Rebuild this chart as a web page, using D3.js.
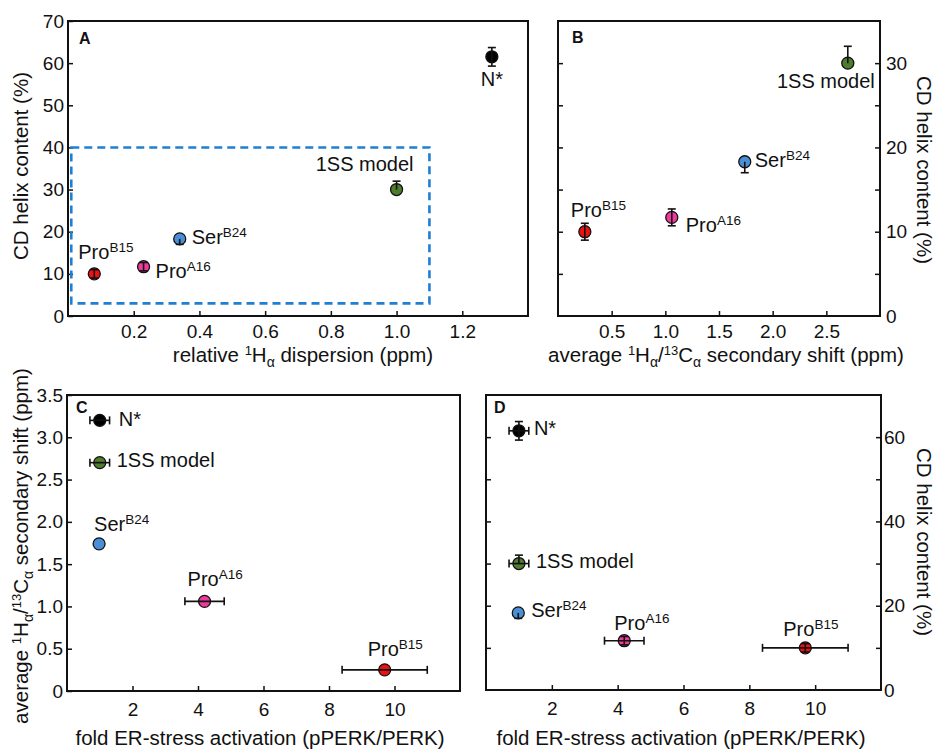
<!DOCTYPE html>
<html>
<head>
<meta charset="utf-8">
<script src="https://d3js.org/d3.v7.min.js"></script>
<style>
body { margin: 0; background: #fff; }
svg { display: block; }
svg text { font-family: 'Liberation Sans', Arial, sans-serif; fill: #111; }
.tick text { font-size: 19px; }
.tick line { stroke: #111; stroke-width: 1.5px; }
.box { fill: none; stroke: #111; stroke-width: 2px; }
.title { font-size: 20.5px; }
.plabel { font-size: 20px; }
.letter { font-size: 16px; font-weight: bold; }
.err { stroke: #111; stroke-width: 1.6px; }
</style>
</head>
<body>
<svg width="938" height="752"></svg>
<script>
// points: N*, 1SS model, SerB24, ProA16, ProB15
const names = ["N*", "1SS model", "Ser", "Pro", "Pro"];
const supers = ["", "", "B24", "A16", "B15"];
const colors = ["#000000", "#4e7d2e", "#4a8fd6", "#ee3a9c", "#ee1111"];
const helix = [61.5, 30.0, 18.3, 11.7, 10.0];
const helixErrLo = [2.2, 0, 1.3, 1.0, 1.0];
const helixErrHi = [2.2, 2.0, 0, 1.0, 1.0];
const dispersion = [1.29, 1.0, 0.34, 0.23, 0.08];
const shift = [3.2, 2.7, 1.74, 1.06, 0.25];
const perk = [1.0, 1.0, 0.98, 4.2, 9.7];
const perkErr = [0.3, 0.3, 0, 0.6, 1.3];

const dispTicks = [0.2, 0.4, 0.6, 0.8, 1.0, 1.2];
const shiftTicksB = [0.5, 1.0, 1.5, 2.0, 2.5];
const shiftTicksC = [0, 0.5, 1.0, 1.5, 2.0, 2.5, 3.0, 3.5];
const perkTicks = [2, 4, 6, 8, 10];
const helixTicksA = [0, 10, 20, 30, 40, 50, 60, 70];
const helixTicksB = [5, 10, 15, 20, 25, 30];
const helixLabelsB = [0, 10, 20, 30];
const helixTicksD = [10, 20, 30, 40, 50, 60];
const helixLabelsD = [0, 20, 40, 60];
// dashed region in panel A (data units)
const regionX = [0.01, 1.1];
const regionY = [3, 40];

const svg = d3.select("svg");
const f1 = d => d === 0 ? "0" : d.toFixed(1);

function richText(sel, parts) {
  let shiftY = 0;
  parts.forEach(p => {
    const t = sel.append("tspan").text(p[0]);
    let target = 0;
    if (p[1] === "sup") { t.style("font-size", "13px"); target = -7; }
    if (p[1] === "sub") { t.style("font-size", "14px"); target = 5; }
    t.attr("dy", target - shiftY);
    shiftY = target;
  });
}

const titleShift = [["average "], ["1", "sup"], ["H"], ["\u03b1", "sub"], ["/"], ["13", "sup"], ["C"], ["\u03b1", "sub"], [" secondary shift (ppm)"]];
const titleDisp = [["relative "], ["1", "sup"], ["H"], ["\u03b1", "sub"], [" dispersion (ppm)"]];
const titleHelix = [["CD helix content (%)"]];
const titlePerk = [["fold ER-stress activation (pPERK/PERK)"]];

function panel(o) {
  const g = svg.append("g");
  const x = d3.scaleLinear().domain(o.xDomain).range([o.left, o.right]);
  const y = d3.scaleLinear().domain(o.yDomain).range([o.bottom, o.top]);
  const noDomain = s => s.select(".domain").remove();

  g.append("g").attr("transform", `translate(0,${o.bottom})`)
    .call(d3.axisBottom(x).tickValues(o.xTicks).tickSize(-5).tickPadding(o.xPad).tickFormat(o.xFmt))
    .call(noDomain);

  if (o.ySide === "left") {
    g.append("g").attr("transform", `translate(${o.left},0)`)
      .call(d3.axisLeft(y).tickValues(o.yTicks).tickSize(-5).tickPadding(4).tickFormat(o.yFmt))
      .call(noDomain);
  } else {
    g.append("g").attr("transform", `translate(${o.right},0)`)
      .call(d3.axisRight(y).tickValues(o.yTicks).tickSize(-5).tickFormat(""))
      .call(noDomain);
    g.append("g").attr("transform", `translate(${o.right},0)`)
      .call(d3.axisRight(y).tickValues(o.yLabels).tickSize(0).tickPadding(o.yPad).tickFormat(o.yFmt))
      .call(noDomain);
    g.append("g").attr("transform", `translate(${o.left},0)`)
      .call(d3.axisLeft(y).tickValues(o.yTicks).tickSize(-5).tickFormat(""))
      .call(noDomain);
  }

  g.append("rect").attr("class", "box")
    .attr("x", o.left).attr("y", o.top)
    .attr("width", o.right - o.left).attr("height", o.bottom - o.top);

  if (o.region) {
    g.append("rect")
      .attr("x", x(o.region[0][0])).attr("y", y(o.region[1][1]))
      .attr("width", x(o.region[0][1]) - x(o.region[0][0]))
      .attr("height", y(o.region[1][0]) - y(o.region[1][1]))
      .attr("fill", "none").attr("stroke", "#1f7fd4")
      .attr("stroke-width", 2.6).attr("stroke-dasharray", "8,5");
  }

  const idx = d3.range(names.length).filter(i =>
    o.xs[i] >= o.xDomain[0] && o.xs[i] <= o.xDomain[1] &&
    o.ys[i] >= o.yDomain[0] && o.ys[i] <= o.yDomain[1]);

  g.selectAll("circle.pt").data(idx).join("circle")
    .attr("class", "pt")
    .attr("cx", i => x(o.xs[i])).attr("cy", i => y(o.ys[i]))
    .attr("r", 6).attr("fill", i => colors[i])
    .attr("stroke", "#111").attr("stroke-width", 1.3);

  const cap = 4;
  idx.forEach(i => {
    const cx = x(o.xs[i]), cy = y(o.ys[i]);
    if (o.xErr && o.xErr[i] > 0) {
      const a = x(o.xs[i] - o.xErr[i]), b = x(o.xs[i] + o.xErr[i]);
      g.append("line").attr("class", "err").attr("x1", a).attr("x2", b).attr("y1", cy).attr("y2", cy);
      [a, b].forEach(v => g.append("line").attr("class", "err")
        .attr("x1", v).attr("x2", v).attr("y1", cy - cap).attr("y2", cy + cap));
    }
    if (o.yLo) {
      const lo = o.yLo[i], hi = o.yHi[i];
      if (lo > 0 || hi > 0) {
        const a = y(o.ys[i] - lo), b = y(o.ys[i] + hi);
        g.append("line").attr("class", "err").attr("x1", cx).attr("x2", cx).attr("y1", a).attr("y2", b);
        if (lo > 0) g.append("line").attr("class", "err").attr("x1", cx - cap).attr("x2", cx + cap).attr("y1", a).attr("y2", a);
        if (hi > 0) g.append("line").attr("class", "err").attr("x1", cx - cap).attr("x2", cx + cap).attr("y1", b).attr("y2", b);
      }
    }
  });

  idx.forEach(i => {
    const off = o.labels[i];
    const t = g.append("text").attr("class", "plabel")
      .attr("x", x(o.xs[i]) + off[0]).attr("y", y(o.ys[i]) + off[1])
      .attr("text-anchor", off[2]);
    t.append("tspan").text(names[i]);
    if (supers[i]) t.append("tspan").attr("dy", -7).style("font-size", "13.5px").text(supers[i]);
  });

  g.append("text").attr("class", "letter").attr("x", o.letterPos[0]).attr("y", o.letterPos[1]).text(o.letter);

  const xt = g.append("text").attr("class", "title").attr("text-anchor", "middle")
    .attr("x", o.xTitlePos[0]).attr("y", o.xTitlePos[1]);
  richText(xt, o.xTitle);

  const rot = o.ySide === "left" ? -90 : 90;
  const yt = g.append("text").attr("class", "title").attr("text-anchor", "middle")
    .attr("transform", `translate(${o.yTitlePos[0]},${o.yTitlePos[1]}) rotate(${rot})`);
  richText(yt, o.yTitle);
}

panel({
  left: 68, right: 528, top: 21, bottom: 316,
  xDomain: [0, 1.4], yDomain: [0, 70],
  xTicks: dispTicks, xFmt: f1, xPad: 8.5,
  ySide: "left", yTicks: helixTicksA, yFmt: d3.format("d"),
  xs: dispersion, ys: helix, yLo: helixErrLo, yHi: helixErrHi,
  labels: [[0, 29, "middle"], [17, -19, "end"], [12, 5, "start"], [12, 11, "start"], [-16, -15, "start"]],
  region: [regionX, regionY],
  letter: "A", letterPos: [79, 44],
  xTitle: titleDisp, xTitlePos: [303, 362],
  yTitle: titleHelix, yTitlePos: [27.5, 166]
});

panel({
  left: 558, right: 880, top: 21, bottom: 316,
  xDomain: [0, 3.0], yDomain: [0, 35],
  xTicks: shiftTicksB, xFmt: f1, xPad: 8.5,
  ySide: "right", yTicks: helixTicksB, yLabels: helixLabelsB, yFmt: d3.format("d"), yPad: 6,
  xs: shift, ys: helix, yLo: helixErrLo, yHi: helixErrHi,
  labels: [[0, 0, "start"], [27, 25, "end"], [10, 5, "start"], [14, 15, "start"], [-14, -15, "start"]],
  letter: "B", letterPos: [572, 43],
  xTitle: titleShift, xTitlePos: [726, 362],
  yTitle: titleHelix, yTitlePos: [917, 170]
});

panel({
  left: 67, right: 460, top: 395, bottom: 691,
  xDomain: [0, 12], yDomain: [0, 3.5],
  xTicks: perkTicks, xFmt: d3.format("d"), xPad: 11.5,
  ySide: "left", yTicks: shiftTicksC, yFmt: f1,
  xs: perk, ys: shift, xErr: perkErr,
  labels: [[19, 6, "start"], [17, 4, "start"], [-5, -13, "start"], [-17, -15, "start"], [-17, -14, "start"]],
  letter: "C", letterPos: [76, 413],
  xTitle: titlePerk, xTitlePos: [260, 745],
  yTitle: titleShift, yTitlePos: [28, 546]
});

panel({
  left: 486, right: 881, top: 395, bottom: 690,
  xDomain: [0, 12], yDomain: [0, 70],
  xTicks: perkTicks, xFmt: d3.format("d"), xPad: 11.5,
  ySide: "right", yTicks: helixTicksD, yLabels: helixLabelsD, yFmt: d3.format("d"), yPad: 3,
  xs: perk, ys: helix, xErr: perkErr, yLo: helixErrLo, yHi: helixErrHi,
  labels: [[15, 4, "start"], [17, 4, "start"], [13, 4, "start"], [-10, -11, "start"], [-22, -12, "start"]],
  letter: "D", letterPos: [494, 413],
  xTitle: titlePerk, xTitlePos: [681, 745],
  yTitle: titleHelix, yTitlePos: [917, 542]
});
</script>
</body>
</html>
